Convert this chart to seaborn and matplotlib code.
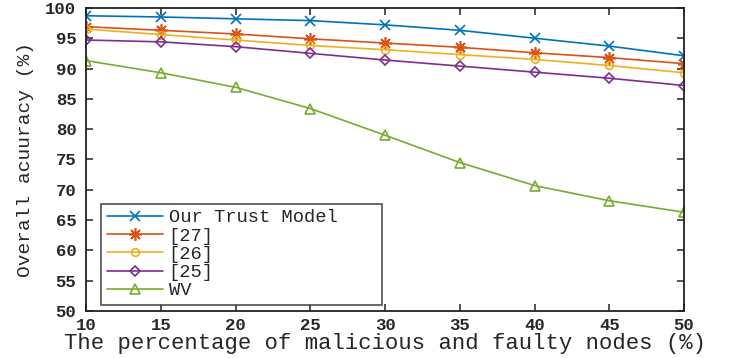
import matplotlib
matplotlib.use("Agg")
import matplotlib.pyplot as plt
import seaborn as sns
import pandas as pd

# percentage of malicious / faulty nodes
nodes_pct = [10, 15, 20, 25, 30, 35, 40, 45, 50]

acc_ours = [98.7, 98.5, 98.2, 97.9, 97.2, 96.3, 95.0, 93.7, 92.1]
acc_27 = [96.9, 96.3, 95.7, 94.9, 94.2, 93.5, 92.6, 91.8, 90.8]
acc_26 = [96.5, 95.6, 94.7, 93.8, 93.1, 92.3, 91.5, 90.5, 89.3]
acc_25 = [94.7, 94.4, 93.6, 92.5, 91.4, 90.4, 89.4, 88.4, 87.2]
acc_wv = [91.3, 89.3, 86.9, 83.4, 79.0, 74.5, 70.7, 68.2, 66.3]

series_names = ["Our Trust Model", "[27]", "[26]", "[25]", "WV"]
series_vals = [acc_ours, acc_27, acc_26, acc_25, acc_wv]

colors = ["#0072BD", "#D95319", "#EDB120", "#7E2F8E", "#77AC30"]
markers = ["x", (8, 2, 0), "o", "D", "^"]
msizes = [7, 9, 5.5, 4.8, 7]

rows = []
for name, vals in zip(series_names, series_vals):
    for x, v in zip(nodes_pct, vals):
        rows.append({"nodes": x, "acc": v, "model": name})
df = pd.DataFrame(rows)

sns.set_style("ticks")
plt.rcParams["font.family"] = ["Liberation Mono", "DejaVu Sans Mono"]

fig = plt.figure(figsize=(7.30, 3.58), dpi=100)
ax = fig.add_axes([0.118, 0.131, 0.819, 0.847])

for name, c, m, ms in zip(series_names, colors, markers, msizes):
    sub = df[df["model"] == name]
    sns.lineplot(data=sub, x="nodes", y="acc", ax=ax, color=c, marker=m,
                 markersize=ms, markerfacecolor="none", markeredgecolor=c,
                 markeredgewidth=1.2, linewidth=1.2, label=name)

ax.set_xlim(10, 50)
ax.set_ylim(50, 100)
ax.set_xticks(nodes_pct)
ax.set_yticks(range(50, 101, 5))
ax.tick_params(direction="in", length=5, width=1.2, top=True, right=True,
               labelsize=12.5, color="#333333")
ax.tick_params(axis="y", pad=7)
ax.tick_params(axis="x", pad=5)
for lab in ax.get_xticklabels() + ax.get_yticklabels():
    lab.set_fontweight("bold")
for sp in ax.spines.values():
    sp.set_visible(True)
    sp.set_linewidth(1.3)
    sp.set_color("#222222")

ax.set_xlabel("The percentage of malicious and faulty nodes (%)", fontsize=16, labelpad=0)
ax.set_ylabel("Overall acuuracy (%)", fontsize=14, labelpad=8)

leg = ax.legend(loc="lower left", bbox_to_anchor=(0.025, 0.02, 0.47, 0.317),
                mode="expand", fontsize=13.5, handlelength=3.0, handletextpad=0.3,
                labelspacing=0.06, borderpad=0.3, fancybox=False, frameon=True,
                borderaxespad=0)
leg.get_frame().set_edgecolor("#333333")
leg.get_frame().set_linewidth(1.3)

fig.savefig("out.png", dpi=100)
